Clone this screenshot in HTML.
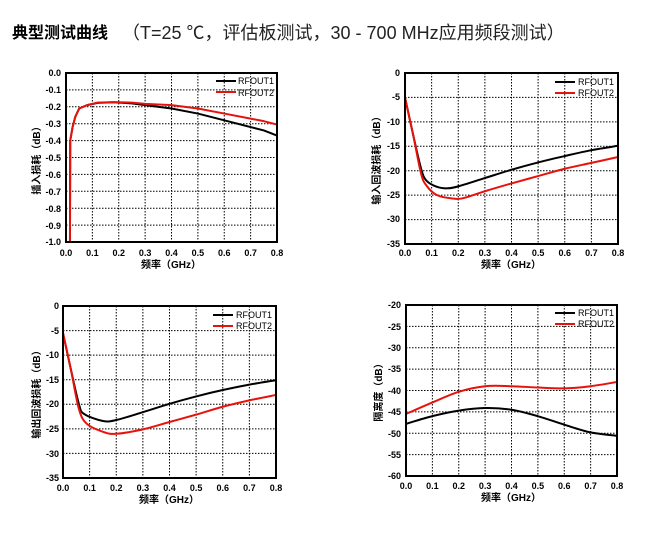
<!DOCTYPE html>
<html><head><meta charset="utf-8"><style>
body{margin:0;background:#fff;}
svg{display:block;font-family:"Liberation Sans","Noto Sans CJK SC",sans-serif;}
.t{font-size:9px;font-weight:bold;fill:#000}
.yl text{text-anchor:end}
.xl text{text-anchor:middle}
.ax{font-size:10px;font-weight:bold;font-family:"Liberation Sans","Noto Sans CJK SC",sans-serif}
.lg{font-size:9px;fill:#000}
</style></head><body>
<svg id="s" width="648" height="538" viewBox="0 0 648 538">
<text x="12" y="38" style="font-size:16px;font-weight:bold;font-family:'Noto Sans CJK SC',sans-serif">典型测试曲线</text>
<text x="122" y="39" style="font-size:18px;fill:#222;font-family:'Liberation Sans','Noto Sans CJK SC',sans-serif">（T=25 ℃，评估板测试，30 - 700 MHz应用频段测试）</text>
<g id="plots"></g>

<g class="t yl">
<text x="61" y="76">0.0</text><text x="61" y="93">-0.1</text><text x="61" y="110">-0.2</text><text x="61" y="127">-0.3</text><text x="61" y="144">-0.4</text><text x="61" y="161">-0.5</text><text x="61" y="178">-0.6</text><text x="61" y="195">-0.7</text><text x="61" y="212">-0.8</text><text x="61" y="229">-0.9</text><text x="61" y="245">-1.0</text>
</g>
<g class="t xl">
<text x="66" y="256">0.0</text><text x="92.4" y="256">0.1</text><text x="118.8" y="256">0.2</text><text x="145.1" y="256">0.3</text><text x="171.5" y="256">0.4</text><text x="197.9" y="256">0.5</text><text x="224.3" y="256">0.6</text><text x="250.6" y="256">0.7</text><text x="277" y="256">0.8</text>
</g>
<text class="ax" x="171" y="268" text-anchor="middle">频率（GHz）</text>
<text class="ax" transform="translate(40,158) rotate(-90)" text-anchor="middle">插入损耗（dB）</text>
<text class="lg" x="238" y="84">RFOUT1</text><text class="lg" x="238" y="96">RFOUT2</text>

<g class="t yl">
<text x="400" y="76">0</text><text x="400" y="100">-5</text><text x="400" y="125">-10</text><text x="400" y="149">-15</text><text x="400" y="174">-20</text><text x="400" y="198">-25</text><text x="400" y="222">-30</text><text x="400" y="247">-35</text>
</g>
<g class="t xl">
<text x="405" y="256">0.0</text><text x="431.6" y="256">0.1</text><text x="458.3" y="256">0.2</text><text x="484.9" y="256">0.3</text><text x="511.5" y="256">0.4</text><text x="538.1" y="256">0.5</text><text x="564.8" y="256">0.6</text><text x="591.4" y="256">0.7</text><text x="618" y="256">0.8</text>
</g>
<text class="ax" x="511" y="268" text-anchor="middle">频率（GHz）</text>
<text class="ax" transform="translate(380,158) rotate(-90)" text-anchor="middle">输入回波损耗（dB）</text>
<text class="lg" x="578" y="85">RFOUT1</text><text class="lg" x="578" y="96">RFOUT2</text>

<g class="t yl">
<text x="59" y="309">0</text><text x="59" y="334">-5</text><text x="59" y="358">-10</text><text x="59" y="383">-15</text><text x="59" y="407">-20</text><text x="59" y="432">-25</text><text x="59" y="457">-30</text><text x="59" y="481">-35</text>
</g>
<g class="t xl">
<text x="63" y="491">0.0</text><text x="89.6" y="491">0.1</text><text x="116.3" y="491">0.2</text><text x="142.9" y="491">0.3</text><text x="169.5" y="491">0.4</text><text x="196.1" y="491">0.5</text><text x="222.8" y="491">0.6</text><text x="249.4" y="491">0.7</text><text x="276" y="491">0.8</text>
</g>
<text class="ax" x="169" y="503" text-anchor="middle">频率（GHz）</text>
<text class="ax" transform="translate(40,392) rotate(-90)" text-anchor="middle">输出回波损耗（dB）</text>
<text class="lg" x="236" y="318">RFOUT1</text><text class="lg" x="236" y="329">RFOUT2</text>

<g class="t yl">
<text x="401" y="308">-20</text><text x="401" y="330">-25</text><text x="401" y="351">-30</text><text x="401" y="372">-35</text><text x="401" y="394">-40</text><text x="401" y="415">-45</text><text x="401" y="437">-50</text><text x="401" y="458">-55</text><text x="401" y="479">-60</text>
</g>
<g class="t xl">
<text x="406" y="489">0.0</text><text x="432.4" y="489">0.1</text><text x="458.8" y="489">0.2</text><text x="485.1" y="489">0.3</text><text x="511.5" y="489">0.4</text><text x="537.9" y="489">0.5</text><text x="564.3" y="489">0.6</text><text x="590.6" y="489">0.7</text><text x="617" y="489">0.8</text>
</g>
<text class="ax" x="511" y="501" text-anchor="middle">频率（GHz）</text>
<text class="ax" transform="translate(382,390) rotate(-90)" text-anchor="middle">隔离度（dB）</text>
<text class="lg" x="578" y="316">RFOUT1</text><text class="lg" x="578" y="327">RFOUT2</text>
</svg>
<script>
const NS="http://www.w3.org/2000/svg",g=document.getElementById('plots');
function el(t,a){const e=document.createElementNS(NS,t);for(const k in a)e.setAttribute(k,a[k]);g.appendChild(e);return e;}
function path(pts){
 let d="M"+pts[0][0]+","+pts[0][1];
 for(let i=0;i<pts.length-1;i++){const p0=pts[i-1]||pts[i],p1=pts[i],p2=pts[i+1],p3=pts[i+2]||p2;
  d+=" C"+(p1[0]+(p2[0]-p0[0])/6)+","+(p1[1]+(p2[1]-p0[1])/6)+" "+(p2[0]-(p3[0]-p1[0])/6)+","+(p2[1]-(p3[1]-p1[1])/6)+" "+p2[0]+","+p2[1];}
 return d;}
function chart(c){
 const {x0,x1,y0,y1,ymin,ymax,ny}=c;
 for(let i=1;i<8;i++){const x=x0+(x1-x0)*i/8;el('line',{x1:x,x2:x,y1:y0,y2:y1,stroke:'#000','stroke-width':1,'stroke-dasharray':'1.5,1.5'});}
 for(let i=1;i<ny;i++){const y=y0+(y1-y0)*i/ny;el('line',{x1:x0,x2:x1,y1:y,y2:y,stroke:'#000','stroke-width':1,'stroke-dasharray':'1.5,1.5'});}
 const X=v=>x0+(x1-x0)*v/0.8,Y=v=>y0+(y1-y0)*(ymax-v)/(ymax-ymin);
 [['#000',c.b],['#e8120c',c.r]].forEach(([col,d])=>{
  el('path',{d:c.lin?("M"+d.map(p=>X(p[0])+","+Y(p[1])).join(" L")):path(d.map(p=>[X(p[0]),Y(p[1])])),fill:'none',stroke:col,'stroke-width':2,'stroke-linejoin':'round'});});
 el('line',{x1:c.lx,x2:c.lx+20,y1:c.ly,y2:c.ly,stroke:'#000','stroke-width':2});
 el('line',{x1:c.lx,x2:c.lx+20,y1:c.ly+11,y2:c.ly+11,stroke:'#e8120c','stroke-width':2});
 el('rect',{x:x0,y:y0,width:x1-x0,height:y1-y0,fill:'none',stroke:'#000','stroke-width':2});
}
chart({x0:66,x1:277,y0:73,y1:242,ymin:-1,ymax:0,ny:10,lx:216,ly:81,lin:true,
 b:[[0.015,-1],[0.016,-0.4],[0.025,-0.32],[0.035,-0.26],[0.05,-0.21],[0.08,-0.19],[0.12,-0.177],[0.18,-0.173],[0.25,-0.18],[0.3,-0.19],[0.4,-0.21],[0.5,-0.24],[0.55,-0.26],[0.6,-0.28],[0.7,-0.32],[0.75,-0.34],[0.8,-0.37]],
 r:[[0.015,-1],[0.016,-0.4],[0.025,-0.32],[0.035,-0.26],[0.05,-0.21],[0.08,-0.19],[0.12,-0.175],[0.18,-0.172],[0.25,-0.175],[0.3,-0.183],[0.4,-0.19],[0.5,-0.21],[0.6,-0.24],[0.7,-0.27],[0.75,-0.285],[0.8,-0.305]]});
chart({x0:405,x1:618,y0:73,y1:244,ymin:-35,ymax:0,ny:7,lx:555,ly:82,
 b:[[0,-5],[0.03,-12.5],[0.06,-19.5],[0.08,-22],[0.12,-23.3],[0.16,-23.6],[0.2,-23.2],[0.3,-21.5],[0.4,-19.8],[0.5,-18.3],[0.6,-17],[0.7,-15.8],[0.8,-14.9]],
 r:[[0,-5],[0.03,-12.5],[0.06,-20.5],[0.08,-23],[0.12,-25],[0.18,-25.7],[0.22,-25.6],[0.3,-24.2],[0.4,-22.6],[0.5,-21.1],[0.6,-19.6],[0.7,-18.4],[0.8,-17.2]]});
chart({x0:63,x1:276,y0:306,y1:478,ymin:-35,ymax:0,ny:7,lx:213,ly:315,
 b:[[0,-5.5],[0.03,-13],[0.06,-20],[0.08,-22],[0.15,-23.4],[0.2,-23.2],[0.3,-21.6],[0.4,-19.9],[0.5,-18.4],[0.6,-17.1],[0.7,-16],[0.8,-15.1]],
 r:[[0,-5.5],[0.03,-13],[0.06,-21],[0.09,-24],[0.15,-25.6],[0.2,-26],[0.3,-25.1],[0.4,-23.6],[0.5,-22.1],[0.6,-20.5],[0.7,-19.2],[0.8,-18.1]]});
chart({x0:406,x1:617,y0:305,y1:476,ymin:-60,ymax:-20,ny:8,lx:555,ly:313,
 b:[[0,-47.8],[0.1,-46],[0.2,-44.7],[0.3,-44.1],[0.4,-44.5],[0.5,-46],[0.6,-48],[0.7,-49.8],[0.8,-50.6]],
 r:[[0,-45.5],[0.1,-42.8],[0.2,-40.3],[0.3,-39],[0.4,-39],[0.5,-39.3],[0.6,-39.5],[0.7,-39],[0.8,-38]]});
</script>
</body></html>
